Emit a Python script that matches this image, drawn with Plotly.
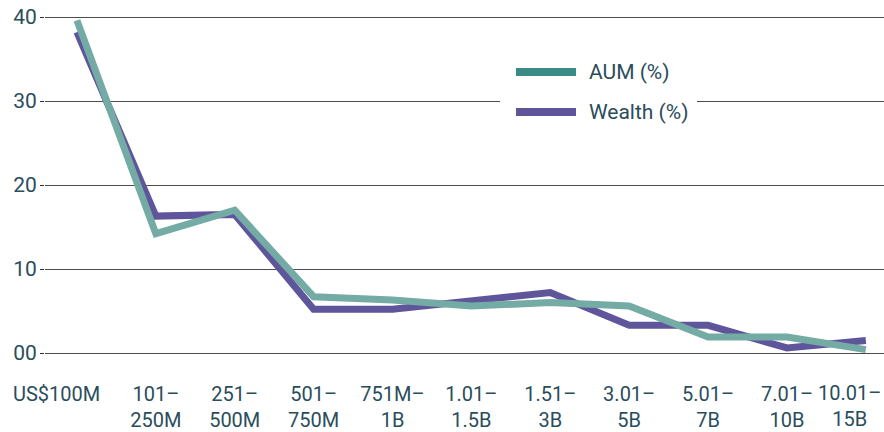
import plotly.graph_objects as go

categories = ["US$100M", "101–<br>250M", "251–<br>500M", "501–<br>750M", "751M–<br>1B",
              "1.01–<br>1.5B", "1.51–<br>3B", "3.01–<br>5B", "5.01–<br>7B", "7.01–<br>10B", "10.01–<br>15B"]
aum = [39.6, 14.2, 17.0, 6.7, 6.3, 5.6, 6.0, 5.6, 1.9, 1.9, 0.4]
wealth = [38.2, 16.3, 16.5, 5.2, 5.2, 6.3, 7.2, 3.3, 3.3, 0.6, 1.5]
y_ticks = [0, 10, 20, 30, 40]
y_tick_labels = ["00", "10", "20", "30", "40"]

TEAL_LINE = "#74ABA4"
TEAL_LEG = "#3B8A84"
PURPLE = "#5F559B"
TEXT = "#2A4D5C"
FONT = "Roboto"
FS = 21
FSX = 20

W, H = 884, 432
ML, MR, MT, MB = 45, 0, 10, 72
PW, PH = W - ML - MR, H - MT - MB

def px_x(x):
    return (x - ML) / PW

def px_y(y):
    return (H - MB - y) / PH

xs = list(range(len(categories)))

fig = go.Figure()
fig.add_trace(go.Scatter(x=xs, y=wealth, mode="lines",
                         line=dict(color=PURPLE, width=7), name="Wealth (%)", showlegend=False))
fig.add_trace(go.Scatter(x=xs, y=aum, mode="lines",
                         line=dict(color=TEAL_LINE, width=7), name="AUM (%)", showlegend=False))

# first and last category labels are kept inside the page edges as annotations on the category scale
tick_text = [""] + categories[1:-1] + [""]

shapes = [
    dict(type="rect", xref="paper", yref="paper", x0=px_x(500), x1=px_x(697), y0=px_y(128), y1=px_y(55),
         fillcolor="white", line=dict(width=0), layer="above"),
    dict(type="line", xref="paper", yref="paper", x0=px_x(516), x1=px_x(576), y0=px_y(72), y1=px_y(72),
         line=dict(color=TEAL_LEG, width=8), layer="above"),
    dict(type="line", xref="paper", yref="paper", x0=px_x(516), x1=px_x(576), y0=px_y(112), y1=px_y(112),
         line=dict(color=PURPLE, width=8), layer="above"),
]
annotations = [
    dict(text="AUM (%)", xref="paper", yref="paper", x=px_x(587), y=px_y(72), xanchor="left", yanchor="middle",
         showarrow=False, font=dict(family=FONT, size=FS, color=TEXT)),
    dict(text="Wealth (%)", xref="paper", yref="paper", x=px_x(587), y=px_y(112), xanchor="left", yanchor="middle",
         showarrow=False, font=dict(family=FONT, size=FS, color=TEXT)),
    dict(text=categories[0], xref="x", yref="paper", x=xs[0], xshift=-20, y=px_y(394), yanchor="middle",
         showarrow=False, font=dict(family=FONT, size=FSX, color=TEXT)),
    dict(text=categories[-1], xref="x", yref="paper", x=xs[-1], xanchor="right", xshift=17, y=px_y(406),
         yanchor="middle", showarrow=False, align="center", font=dict(family=FONT, size=FSX, color=TEXT)),
]

fig.update_layout(
    width=W, height=H, margin=dict(l=ML, r=MR, t=MT, b=MB, autoexpand=False),
    paper_bgcolor="white", plot_bgcolor="white",
    showlegend=False, shapes=shapes, annotations=annotations,
    font=dict(family=FONT, size=FS, color=TEXT),
    xaxis=dict(tickmode="array", tickvals=xs, ticktext=tick_text, automargin=False,
               range=[-0.405, 10.23], showgrid=False, zeroline=False, showline=False, ticks="",
               ticklabelstandoff=20, tickfont=dict(family=FONT, size=FSX, color=TEXT)),
    yaxis=dict(tickmode="array", tickvals=y_ticks, ticktext=y_tick_labels, automargin=False,
               range=[-0.833, 40.833], showgrid=True, gridcolor="#4d4d4d", gridwidth=1,
               zeroline=False, showline=False, ticks="outside", ticklen=4, tickcolor="#333",
               ticklabelstandoff=-1, tickfont=dict(family=FONT, size=FS, color=TEXT)),
)

fig.write_html("out.html", config={"displayModeBar": False},
               post_script="document.body.style.margin='0';document.body.style.overflow='hidden';")
